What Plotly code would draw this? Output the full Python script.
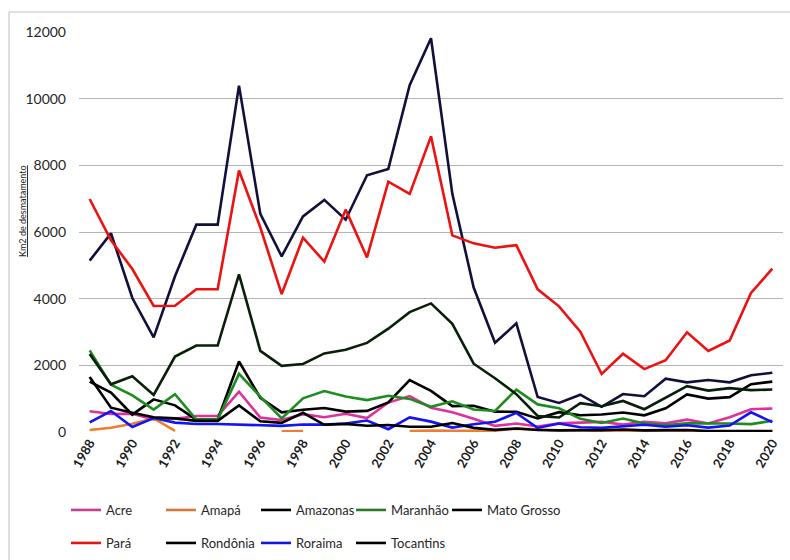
import plotly.graph_objects as go

years = list(range(1988, 2021))

acre = [620, 540, 550, 380, 400, 482, 482, 1208, 433, 358, 536, 441, 547, 419, 883, 1078, 728,
        592, 398, 184, 254, 167, 259, 280, 305, 221, 309, 264, 372, 257, 444, 682, 706]
amapa = [60, 130, 250, 410, 36, None, None, 9, None, 18, 30, None, None, 7, None, 25, 46,
         33, 30, 39, 100, 70, 53, 66, 27, 23, 31, 25, 17, 24, 24, 32, 24]
amazonas = [1510, 1180, 520, 980, 799, 370, 370, 2114, 1023, 589, 670, 720, 612, 634, 885, 1558, 1232,
            775, 788, 610, 604, 405, 595, 502, 523, 583, 500, 712, 1129, 1001, 1045, 1434, 1512]
maranhao = [2450, 1420, 1100, 670, 1135, 372, 372, 1745, 1061, 409, 1012, 1230, 1065, 958, 1085, 993, 755,
            922, 674, 631, 1271, 828, 712, 396, 269, 403, 257, 209, 258, 265, 253, 237, 336]
mato_grosso = [5140, 5960, 4020, 2840, 4674, 6220, 6220, 10391, 6543, 5271, 6466, 6963, 6369, 7703, 7892, 10405, 11814,
               7145, 4333, 2678, 3258, 1049, 871, 1120, 757, 1139, 1075, 1601, 1489, 1561, 1490, 1702, 1779]
para = [6990, 5750, 4890, 3780, 3787, 4284, 4284, 7845, 6135, 4139, 5829, 5111, 6671, 5237, 7510, 7145, 8870,
        5899, 5659, 5526, 5607, 4281, 3770, 3008, 1741, 2346, 1887, 2153, 2992, 2433, 2744, 4172, 4899]
rondonia = [2340, 1430, 1670, 1110, 2265, 2595, 2595, 4730, 2432, 1986, 2041, 2358, 2465, 2673, 3099, 3597, 3858,
            3244, 2049, 1611, 1136, 482, 435, 865, 773, 932, 684, 1030, 1376, 1243, 1316, 1257, 1273]
roraima = [290, 630, 150, 420, 281, 240, 240, 220, 214, 184, 223, 220, 253, 345, 84, 439, 311,
           133, 231, 309, 574, 121, 256, 141, 124, 170, 219, 156, 202, 132, 195, 590, 297]
tocantins = [1650, 730, 580, 440, 409, 333, 333, 797, 320, 273, 576, 216, 244, 189, 212, 156, 158,
             271, 124, 63, 107, 61, 49, 40, 52, 74, 50, 57, 58, 31, 25, 23, 25]

y_ticks = [0, 2000, 4000, 6000, 8000, 10000, 12000]
x_ticks = list(range(1988, 2021, 2))

series = [
    ("Acre", acre, "#E0309A", "#C8408C"),
    ("Amapá", amapa, "#ED7D31", "#D8783C"),
    ("Amazonas", amazonas, "#000000", "#000000"),
    ("Maranhão", maranhao, "#1E8C1E", "#2A7A2A"),
    ("Mato Grosso", mato_grosso, "#10103A", "#000000"),
    ("Pará", para, "#EE1111", "#E01515"),
    ("Rondônia", rondonia, "#0A1F0A", "#000000"),
    ("Roraima", roraima, "#1414F0", "#1414E0"),
    ("Tocantins", tocantins, "#000000", "#000000"),
]

# legend entry slots: (left px, centre y px) -> 5 in first row, 4 in second
legend_slots = [(66, 510), (161, 510), (256, 510), (351, 510), (447, 510),
                (66, 543), (161, 543), (256, 543), (351, 543)]

fig = go.Figure()
for name, vals, color, lcolor in series:
    fig.add_trace(go.Scatter(
        x=years, y=vals, name=name, mode="lines",
        line=dict(color=color, width=2.6),
        showlegend=False, connectgaps=False, legendgroup=name,
    ))

font_family = "Lato, 'Open Sans', sans-serif"
legend_layout = {}
for i, ((name, vals, color, lcolor), (lx, ly)) in enumerate(zip(series, legend_slots)):
    key = "legend" if i == 0 else f"legend{i + 1}"
    fig.add_trace(go.Scatter(
        x=[None], y=[None], name=name, mode="lines",
        line=dict(color=lcolor, width=2.6),
        legend=key, legendgroup=name, showlegend=True,
    ))
    legend_layout[key] = dict(
        orientation="h", xref="container", yref="container",
        x=lx / 790, y=(560 - ly) / 560,
        xanchor="left", yanchor="middle",
        font=dict(family=font_family, size=13, color="#262626"),
        bgcolor="rgba(0,0,0,0)", itemwidth=30,
    )

fig.update_layout(
    width=790, height=560,
    paper_bgcolor="white", plot_bgcolor="white",
    margin=dict(l=79, r=7, t=32, b=128, autoexpand=False),
    font=dict(family=font_family, color="#262626"),
    showlegend=True,
    xaxis=dict(
        range=[1987.5, 2020.5], automargin=False,
        tickmode="array", tickvals=x_ticks,
        ticktext=[str(y) for y in x_ticks],
        tickangle=-60, showgrid=False, zeroline=False, showline=False,
        ticks="", tickfont=dict(family=font_family, size=13, color="#1a1a1a", weight="bold"),
    ),
    yaxis=dict(
        range=[0, 12000], automargin=False,
        tickmode="array", tickvals=y_ticks, ticktext=[str(v) for v in y_ticks],
        showgrid=True, gridcolor="#B4B4B4", gridwidth=1.3,
        zeroline=False, showline=False, ticks="",
        tickfont=dict(family=font_family, size=14, color="#262626"),
        ticklabelstandoff=12,
    ),
    annotations=[dict(
        text="<u>Km2 de desmatamento</u>", textangle=-90,
        xref="paper", yref="paper", x=(22 - 79) / 704, y=0.5525,
        xanchor="center", yanchor="middle", showarrow=False,
        font=dict(family=font_family, size=9, color="#1a1a1a"),
    )],
    shapes=[
        dict(type="line", xref="paper", yref="paper", x0=-70 / 704, x1=1.02, y0=(432 - 12) / 400, y1=(432 - 12) / 400,
             line=dict(color="#BFBFBF", width=1)),
        dict(type="line", xref="paper", yref="paper", x0=-70 / 704, x1=-70 / 704, y0=(432 - 12) / 400, y1=-0.35,
             line=dict(color="#BFBFBF", width=1)),
    ],
    **legend_layout,
)

fig.write_html("out.html", config={"displayModeBar": False},
               post_script="document.body.style.margin='0';document.body.style.overflow='hidden';")
